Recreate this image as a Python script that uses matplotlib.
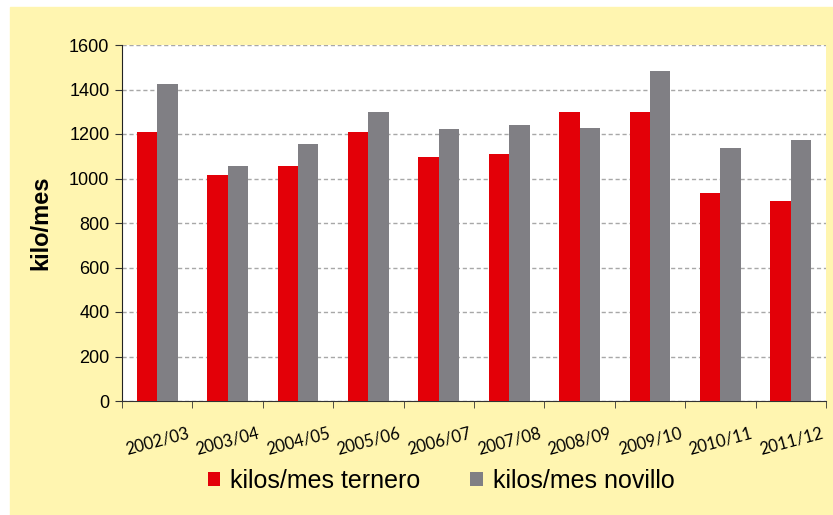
import matplotlib
matplotlib.use("Agg")
import matplotlib.pyplot as plt
import numpy as np
from matplotlib.patches import Rectangle
from matplotlib import font_manager
from matplotlib.transforms import ScaledTranslation

categories = ["2002/03", "2003/04", "2004/05", "2005/06", "2006/07",
              "2007/08", "2008/09", "2009/10", "2010/11", "2011/12"]
ternero = [1207, 1014, 1058, 1209, 1095, 1111, 1299, 1299, 933, 897]
novillo = [1423, 1055, 1155, 1297, 1224, 1239, 1225, 1484, 1137, 1173]
yticks = [0, 200, 400, 600, 800, 1000, 1200, 1400, 1600]
series_names = ["kilos/mes ternero", "kilos/mes novillo"]

RED = "#E30008"
GRAY = "#807F84"
YELLOW = "#FFF5B0"

names = {f.name for f in font_manager.fontManager.ttflist}
narrow = "Liberation Sans Narrow" if "Liberation Sans Narrow" in names else "Liberation Sans"

fig = plt.figure(figsize=(8.33, 5.15), dpi=100)
fig.patches.append(Rectangle((10 / 833, 0), 1, (515 - 7) / 515,
                             transform=fig.transFigure, color=YELLOW, zorder=-5))

ax = fig.add_axes([122 / 833, (515 - 401) / 515, (826 - 122) / 833, (401 - 45) / 515])
ax.set_zorder(2)
ax.set_facecolor("white")

x = np.arange(len(categories))
w = 0.29
ax.bar(x - w / 2, ternero, width=w, color=RED, zorder=3, label=series_names[0])
ax.bar(x + w / 2, novillo, width=w, color=GRAY, zorder=3, label=series_names[1])

ax.set_xlim(-0.5, len(categories) - 0.5)
ax.set_ylim(0, 1600)
ax.set_yticks(yticks)
ax.set_yticklabels([str(v) for v in yticks], fontfamily=narrow, fontsize=13)
ax.yaxis.grid(True, linestyle=(0, (3, 2)), color="#A8A8A8", linewidth=1, zorder=1)
ax.set_axisbelow(True)

ax.set_xticks(x)
ax.set_xticklabels(categories, rotation=15, fontfamily="Lato", fontsize=12,
                   ha="center")
shift = ScaledTranslation(-6 / 100, 0, fig.dpi_scale_trans)
for lab in ax.get_xticklabels():
    lab.set_transform(lab.get_transform() + shift)
ax.tick_params(axis="x", length=0, pad=17)
ax.set_xticks(np.arange(-0.5, len(categories), 1), minor=True)
ax.tick_params(axis="x", which="minor", length=5, direction="out", color="#333333")
ax.tick_params(axis="y", length=5, direction="out", color="#333333", pad=4)

for s in ["top", "right"]:
    ax.spines[s].set_visible(False)
ax.spines["left"].set_color("#222222")
ax.spines["bottom"].set_color("#333333")

ax.set_ylabel("kilo/mes", fontfamily=narrow, fontweight="bold", fontsize=17, labelpad=12)

leg = fig.legend(loc="center", bbox_to_anchor=(441 / 833, (515 - 481) / 515), ncol=2,
                 frameon=False, prop={"family": narrow, "size": 18},
                 handlelength=0.5, handleheight=0.5, handletextpad=0.4,
                 columnspacing=2.0)

fig.savefig("out.png", dpi=100)
